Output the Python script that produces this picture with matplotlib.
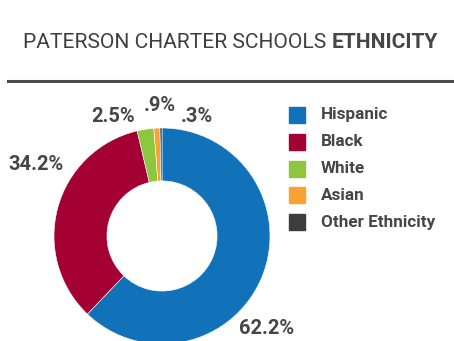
import matplotlib
matplotlib.use("Agg")
import matplotlib.pyplot as plt

labels = ["Hispanic", "Black", "White", "Asian", "Other Ethnicity"]
values = [62.2, 34.2, 2.5, 0.9, 0.3]
pct_text = ["62.2%", "34.2%", "2.5%", ".9%", ".3%"]
colors = ["#1172ba", "#a50034", "#8dc63f", "#f7a233", "#3d3d3d"]

TXT = "#464646"
W, H = 454, 341
FAM = ["Roboto", "DejaVu Sans"]

fig = plt.figure(figsize=(W / 100, H / 100), dpi=100)
r_ = fig.canvas.get_renderer()

# title (regular + bold part), fitted to the reference width
fs = 17
t1 = fig.text(23 / W, 1 - 43 / H, "PATERSON CHARTER SCHOOLS ", fontsize=fs,
              color="#3e3e3e", family=FAM, va="center", ha="left")
t2 = fig.text(0, 1 - 43 / H, "ETHNICITY", fontsize=fs, color=TXT,
              fontweight="bold", family=FAM, va="center", ha="left")
w_tot = t1.get_window_extent(r_).width + t2.get_window_extent(r_).width
fs = fs * 417 / w_tot
t1.set_fontsize(fs)
t2.set_fontsize(fs)
t2.set_x(t1.get_window_extent(r_).x1 / W)
fig.add_artist(plt.Line2D([8 / W, 1], [1 - 81 / H, 1 - 81 / H], color="#4a4a4a", lw=2.2))

# donut
cx, cy, r = 162, 236, 108
ax = fig.add_axes([(cx - r) / W, (H - cy - r) / H, 2 * r / W, 2 * r / H])
wedges, _ = ax.pie(values, colors=colors, startangle=90, counterclock=False,
                   radius=1.0, wedgeprops=dict(width=0.49, edgecolor="white", linewidth=0.4))
for w in wedges:
    w.set_clip_on(False)
ax.set_xlim(-1, 1)
ax.set_ylim(-1, 1)
ax.set_aspect("equal")
ax.axis("off")

# percent labels (pixel positions from top-left)
label_pos = [(267, 328), (36, 165), (113, 117), (160, 106), (197, 117)]
for txt, (x, y) in zip(pct_text, label_pos):
    fig.text(x / W, 1 - y / H, txt, fontsize=14.5, fontweight="bold", color=TXT,
             family=FAM, ha="center", va="center")

# legend
for i, (lab, c) in enumerate(zip(labels, colors)):
    y = 115 + i * 26.8
    fig.add_artist(plt.Rectangle((289 / W, 1 - (y + 8) / H), 16 / W, 16 / H,
                                 color=c, transform=fig.transFigure))
    fig.text(321 / W, 1 - y / H, lab, fontsize=12.3, fontweight="bold", color=TXT,
             family=FAM, ha="left", va="center")

fig.savefig("out.png", dpi=100)
